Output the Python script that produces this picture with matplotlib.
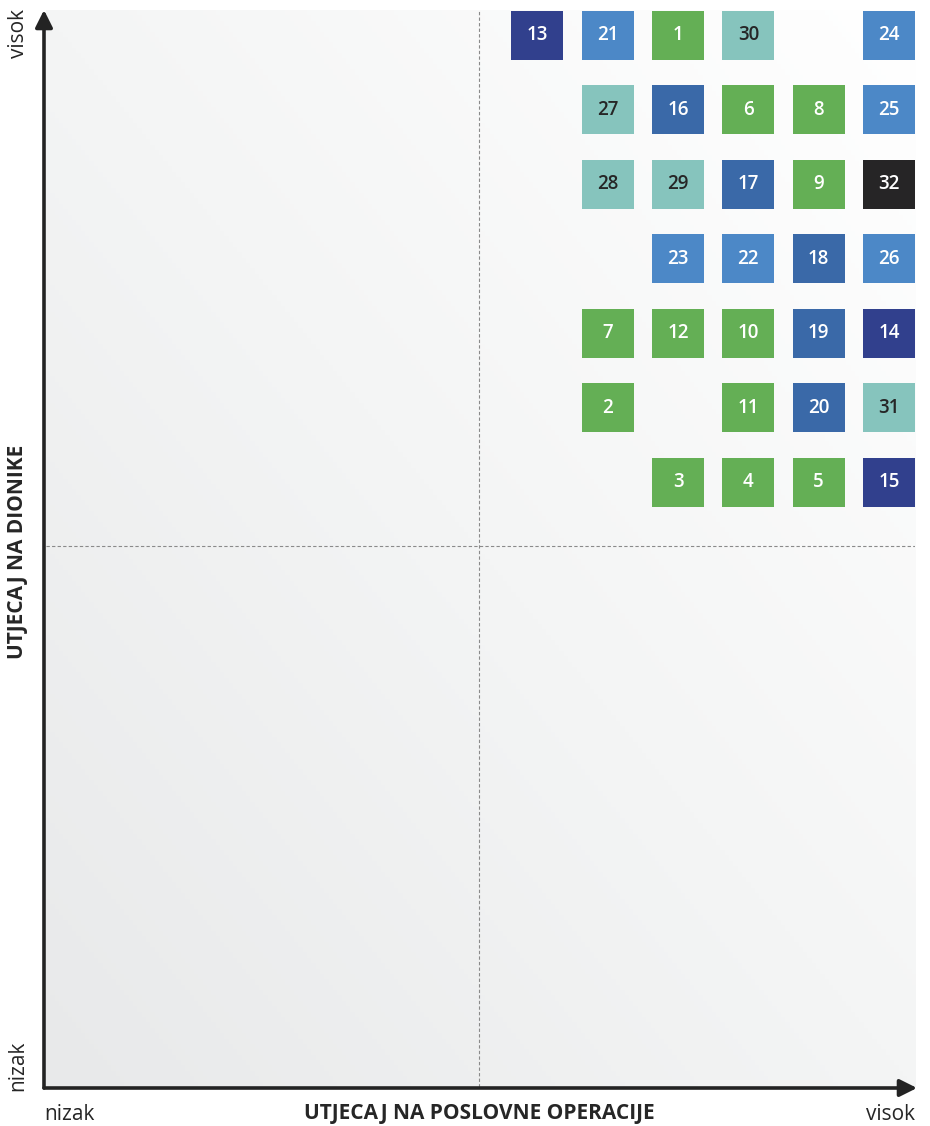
import numpy as np
import matplotlib
matplotlib.use("Agg")
import matplotlib.pyplot as plt
from matplotlib.colors import LinearSegmentedColormap
from matplotlib.patches import Rectangle, FancyArrowPatch

plt.rcParams["font.family"] = ["Open Sans", "DejaVu Sans"]

# topic number, column (impact on operations), row (impact on stakeholders), group
topics = [13, 21, 1, 30, 24,
          27, 16, 6, 8, 25,
          28, 29, 17, 9, 32,
          23, 22, 18, 26,
          7, 12, 10, 19, 14,
          2, 11, 20, 31,
          3, 4, 5, 15]
col = [1, 2, 3, 4, 6,
       2, 3, 4, 5, 6,
       2, 3, 4, 5, 6,
       3, 4, 5, 6,
       2, 3, 4, 5, 6,
       2, 4, 5, 6,
       3, 4, 5, 6]
row = [7, 7, 7, 7, 7,
       6, 6, 6, 6, 6,
       5, 5, 5, 5, 5,
       4, 4, 4, 4,
       3, 3, 3, 3, 3,
       2, 2, 2, 2,
       1, 1, 1, 1]
group = ["navy", "blue", "green", "teal", "blue",
         "teal", "steel", "green", "green", "blue",
         "teal", "teal", "steel", "green", "black",
         "blue", "blue", "steel", "blue",
         "green", "green", "green", "steel", "navy",
         "green", "green", "steel", "teal",
         "green", "green", "green", "navy"]

COLORS = {"navy": "#31408d", "blue": "#4c88c7", "steel": "#3a69a8",
          "green": "#64af55", "teal": "#86c4bd", "black": "#262526"}
TEXT = {"teal": "#262626"}

XLIM = (-5.99, 6.37)
YLIM = (-7.12, 7.34)
BW, BH = 0.74, 0.66

fig = plt.figure(figsize=(9.3, 11.26), dpi=100)
ax = fig.add_axes([46 / 930, 39 / 1126, 869 / 930, 1077 / 1126])
ax.set_xlim(*XLIM)
ax.set_ylim(*YLIM)
ax.axis("off")

# diagonal grey-to-white background
gx, gy = np.meshgrid(np.linspace(0, 1, 200), np.linspace(0, 1, 200))
grad = (gx + gy) / 2
cmap = LinearSegmentedColormap.from_list("bg", ["#e8e9ea", "#f4f5f5", "#ffffff"])
ax.imshow(grad, extent=(*XLIM, *YLIM), origin="lower", cmap=cmap,
          aspect="auto", zorder=0)

# quadrant split lines
xm = XLIM[0] + 0.498 * (XLIM[1] - XLIM[0])
ym = YLIM[0] + 0.502 * (YLIM[1] - YLIM[0])
ax.axvline(xm, color="#8a8a8a", lw=0.8, ls=(0, (3, 2)), zorder=1)
ax.axhline(ym, color="#8a8a8a", lw=0.8, ls=(0, (3, 2)), zorder=1)

for t, c, r, g in zip(topics, col, row, group):
    ax.add_patch(Rectangle((c - BW / 2, r - BH / 2), BW, BH,
                           facecolor=COLORS[g], edgecolor="none", zorder=2))
    ax.text(c, r, str(t), ha="center", va="center", fontsize=13.5,
            fontweight="semibold", color=TEXT.get(g, "white"), zorder=3)

# axis arrows
arrow = dict(arrowstyle="-|>", lw=2.6, color="#232323", mutation_scale=26,
             shrinkA=0, shrinkB=0)
ax0 = 44 / 930
ay0 = 1 - 1088 / 1126
fig.add_artist(FancyArrowPatch((ax0, ay0), (ax0, 1 - 10 / 1126),
                               transform=fig.transFigure, **arrow))
fig.add_artist(FancyArrowPatch((ax0, ay0), (917 / 930, ay0),
                               transform=fig.transFigure, **arrow))

fs = 15
fig.text(18 / 930, 1 - 9 / 1126, "visok", rotation=90, ha="center", va="top",
         fontsize=fs, color="#262626")
fig.text(18 / 930, 1 - 1091 / 1126, "nizak", rotation=90, ha="center",
         va="bottom", fontsize=fs, color="#262626")
fig.text(18 / 930, 1 - 552 / 1126, "UTJECAJ NA DIONIKE", rotation=90,
         ha="center", va="center", fontsize=fs, fontweight="bold", color="#262626")
fig.text(44 / 930, 1 - 1114 / 1126, "nizak", ha="left", va="center",
         fontsize=fs, color="#262626")
fig.text(915 / 930, 1 - 1114 / 1126, "visok", ha="right", va="center",
         fontsize=fs, color="#262626")
fig.text(479 / 930, 1 - 1114 / 1126, "UTJECAJ NA POSLOVNE OPERACIJE",
         ha="center", va="center", fontsize=fs, fontweight="bold", color="#262626")

fig.savefig("out.png", dpi=100)
